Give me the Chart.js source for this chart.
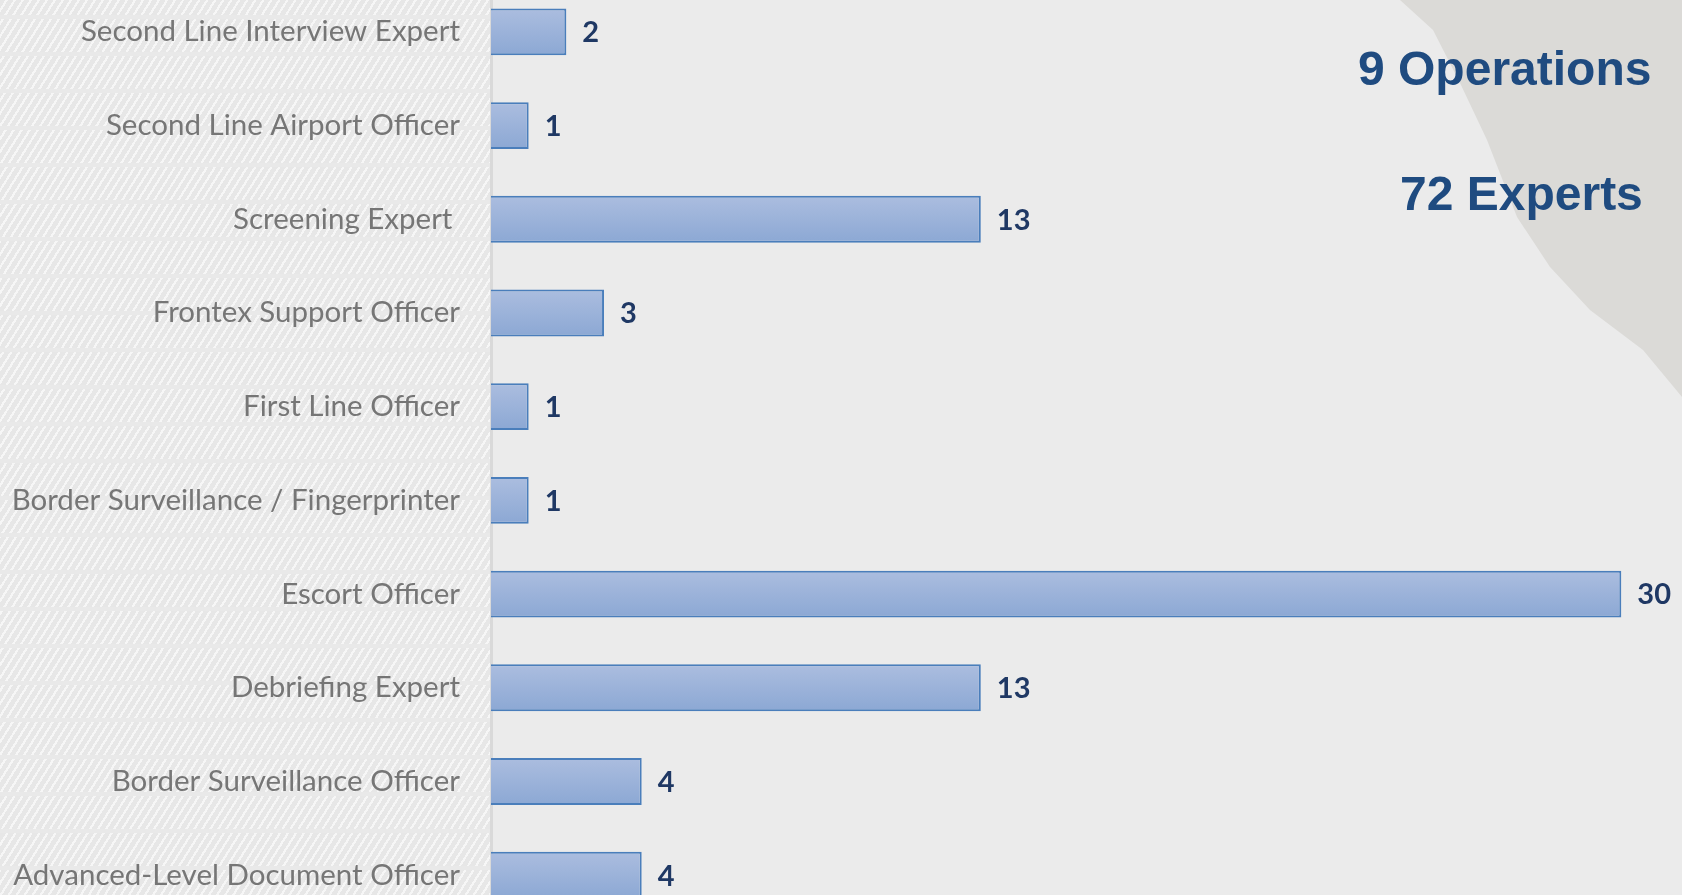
<!DOCTYPE html>
<html>
<head>
<meta charset="utf-8">
<script src="https://cdn.jsdelivr.net/npm/chart.js@4"></script>
<style>
    html, body { margin: 0; padding: 0; width: 1682px; height: 895px; overflow: hidden; background: #ebebeb; }
    #hatch {
        position: absolute; left: 0; top: 0; width: 490px; height: 895px;
        background-color: #e7e7e7;
        background-image:
            repeating-linear-gradient(180deg, transparent 0 33px, #e9e9e9 33px 37px),
            repeating-linear-gradient(122deg, #e7e7e7 0 4.6px, #f6f6f6 4.6px 6.8px);
        background-position: 0 -18px, 0 0;
    }
    #shape {
        position: absolute; left: 0; top: 0; width: 1682px; height: 895px;
        background: #dbdad7;
        clip-path: polygon(1400px 0, 1433px 30px, 1460px 83px, 1487px 140px, 1517px 217px, 1550px 267px,
            1590px 310px, 1643px 350px, 1682px 397px, 1682px 0);
    }
    #myChart { position: absolute; left: 0; top: -15px; }
</style>
</head>
<body>
<div id="hatch"></div>
<div id="shape"></div>
<canvas id="myChart" width="1682" height="937"></canvas>
<script>
var roles = ['Second Line Interview Expert', 'Second Line Airport Officer', 'Screening Expert ',
    'Frontex Support Officer', 'First Line Officer', 'Border Surveillance / Fingerprinter',
    'Escort Officer', 'Debriefing Expert', 'Border Surveillance Officer', 'Advanced-Level Document Officer'];
var experts = [2, 1, 13, 3, 1, 1, 30, 13, 4, 4];
var headline = ['9 Operations', '72 Experts'];

document.addEventListener("DOMContentLoaded", function() {
    var ctx = document.getElementById('myChart').getContext('2d');

    // bar gradient, light on top, darker at the bottom
    function barFill(c) {
        var chart = c.chart;
        var y = chart.scales.y;
        if (!y || c.dataIndex === undefined) return '#9bb3d9';
        var mid = y.getPixelForValue(c.dataIndex);
        if (!isFinite(mid)) return '#9bb3d9';
        var g = chart.ctx.createLinearGradient(0, mid - 23, 0, mid + 23);
        g.addColorStop(0, '#abbddf');
        g.addColorStop(1, '#8ca8d4');
        return g;
    }

    var valueLabels = {
        id: 'valueLabels',
        afterDatasetsDraw: function(chart) {
            var c = chart.ctx;
            c.save();
            c.font = 'bold 29px Lato';
            c.fillStyle = '#1f3864';
            c.textAlign = 'left';
            c.textBaseline = 'middle';
            chart.getDatasetMeta(0).data.forEach(function(bar, i) {
                c.fillText(String(experts[i]), bar.x + 16, bar.y + 1);
            });
            // headline text top right
            c.font = 'bold 48px "Liberation Sans"';
            c.fillStyle = '#1f4b80';
            c.textBaseline = 'alphabetic';
            c.fillText(headline[0], 1358, 100);
            c.fillText(headline[1], 1400, 225);
            c.restore();
        }
    };

    var myChart = new Chart(ctx, {
        type: 'bar',
        data: {
            labels: roles,
            datasets: [{
                label: 'Experts',
                data: experts,
                backgroundColor: barFill,
                borderColor: '#4a7ebb',
                borderWidth: 2,
                barPercentage: 0.5,
                categoryPercentage: 1
            }]
        },
        options: {
            indexAxis: 'y',
            responsive: false,
            animation: false,
            layout: { padding: { left: 0, right: 23, top: 0, bottom: 0 } },
            plugins: {
                legend: { display: false },
                tooltip: { enabled: false }
            },
            scales: {
                x: {
                    display: false,
                    min: 0,
                    max: 31
                },
                y: {
                    afterFit: function(scale) {
                        scale.width = 491;
                        scale.paddingTop = 0;
                        scale.paddingBottom = 0;
                    },
                    grid: { display: false, drawTicks: false },
                    border: { display: true, color: '#d9d9d9', width: 3 },
                    ticks: {
                        padding: 31,
                        color: '#767676',
                        font: { family: 'Lato', size: 29.5 }
                    }
                }
            }
        },
        plugins: [valueLabels]
    });
});
</script>
</body>
</html>
